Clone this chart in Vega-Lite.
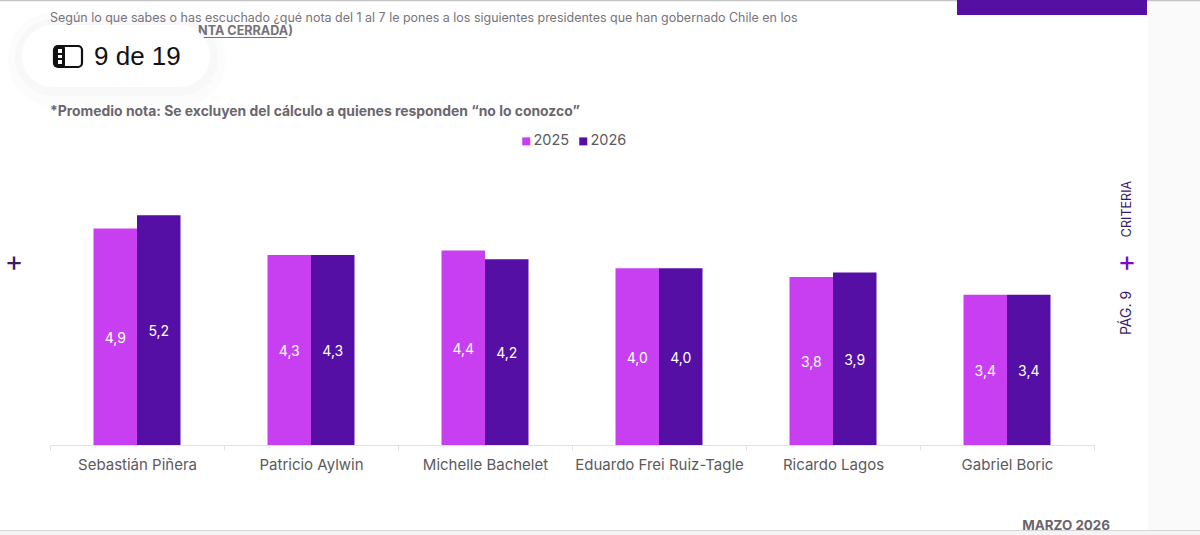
{
  "$schema": "https://vega.github.io/schema/vega-lite/v6.json",
  "width": 1200,
  "height": 535,
  "autosize": "none",
  "padding": 0,
  "background": "#ffffff",
  "title": {
    "text": "Según lo que sabes o has escuchado ¿qué nota del 1 al 7 le pones a los siguientes presidentes que han gobernado Chile en los",
    "subtitle": "*Promedio nota: Se excluyen del cálculo a quienes responden “no lo conozco”",
    "anchor": "start",
    "frame": "group",
    "dx": 50,
    "offset": -119,
    "font": "Inter",
    "fontSize": 12.47,
    "fontWeight": "normal",
    "color": "#77737a",
    "subtitleFont": "Inter",
    "subtitleFontSize": 13.9,
    "subtitleFontWeight": "bold",
    "subtitleColor": "#6b666e",
    "subtitlePadding": 80
  },
  "data": {
    "values": [
      {"presidente": "Sebastián Piñera", "anio": "2025", "nota": 4.9},
      {"presidente": "Sebastián Piñera", "anio": "2026", "nota": 5.2},
      {"presidente": "Patricio Aylwin", "anio": "2025", "nota": 4.3},
      {"presidente": "Patricio Aylwin", "anio": "2026", "nota": 4.3},
      {"presidente": "Michelle Bachelet", "anio": "2025", "nota": 4.4},
      {"presidente": "Michelle Bachelet", "anio": "2026", "nota": 4.2},
      {"presidente": "Eduardo Frei Ruiz-Tagle", "anio": "2025", "nota": 4.0},
      {"presidente": "Eduardo Frei Ruiz-Tagle", "anio": "2026", "nota": 4.0},
      {"presidente": "Ricardo Lagos", "anio": "2025", "nota": 3.8},
      {"presidente": "Ricardo Lagos", "anio": "2026", "nota": 3.9},
      {"presidente": "Gabriel Boric", "anio": "2025", "nota": 3.4},
      {"presidente": "Gabriel Boric", "anio": "2026", "nota": 3.4}
    ]
  },
  "layer": [
    {
      "data": {"values": [{"pagina": 9}]},
      "layer": [
        {
          "mark": {"type": "rect", "fill": "#fafafa"},
          "encoding": {
            "x": {"datum": 1148, "type": "quantitative", "axis": null, "scale": {"domain": [0, 1200], "range": [0, 1200], "nice": false, "zero": false}},
            "x2": {"datum": 1200},
            "y": {"datum": 0, "type": "quantitative", "axis": null, "scale": {"domain": [0, 535], "range": [0, 535], "nice": false, "zero": false}},
            "y2": {"datum": 535}
          }
        },
        {
          "mark": {"type": "rect", "fill": "#f4f4f4"},
          "encoding": {
            "x": {"datum": 0, "type": "quantitative", "axis": null},
            "x2": {"datum": 1200},
            "y": {"datum": 530, "type": "quantitative", "axis": null},
            "y2": {"datum": 535}
          }
        },
        {
          "mark": {"type": "rule", "stroke": "#d6d6d6", "strokeWidth": 1},
          "encoding": {
            "x": {"datum": 0, "type": "quantitative", "axis": null},
            "x2": {"datum": 1200},
            "y": {"datum": 530.5, "type": "quantitative", "axis": null}
          }
        },
        {
          "mark": {"type": "rule", "stroke": "#c4c4c4", "strokeWidth": 1.5},
          "encoding": {
            "x": {"datum": 0, "type": "quantitative", "axis": null},
            "x2": {"datum": 1200},
            "y": {"datum": 0.5, "type": "quantitative", "axis": null}
          }
        },
        {
          "mark": {"type": "rect", "fill": "#550fa3"},
          "encoding": {
            "x": {"datum": 957, "type": "quantitative", "axis": null},
            "x2": {"datum": 1147},
            "y": {"datum": 0, "type": "quantitative", "axis": null},
            "y2": {"datum": 15}
          }
        },
        {
          "mark": {"type": "text", "text": "NTA CERRADA)", "align": "right", "baseline": "middle", "font": "Inter", "fontSize": 12.6, "fontWeight": "bold", "fill": "#77737a"},
          "encoding": {
            "x": {"datum": 293, "type": "quantitative", "axis": null},
            "y": {"datum": 31, "type": "quantitative", "axis": null}
          }
        },
        {
          "mark": {"type": "rule", "stroke": "#77737a", "strokeWidth": 1},
          "encoding": {
            "x": {"datum": 198, "type": "quantitative", "axis": null},
            "x2": {"datum": 287},
            "y": {"datum": 37.5, "type": "quantitative", "axis": null}
          }
        },
        {
          "mark": {"type": "rect", "fill": "#000000", "opacity": 0.012, "cornerRadius": 45},
          "encoding": {
            "x": {"datum": 8, "type": "quantitative", "axis": null},
            "x2": {"datum": 226},
            "y": {"datum": 12, "type": "quantitative", "axis": null},
            "y2": {"datum": 106}
          }
        },
        {
          "mark": {"type": "rect", "fill": "#000000", "opacity": 0.015, "cornerRadius": 38},
          "encoding": {
            "x": {"datum": 15, "type": "quantitative", "axis": null},
            "x2": {"datum": 218},
            "y": {"datum": 19, "type": "quantitative", "axis": null},
            "y2": {"datum": 96}
          }
        },
        {
          "mark": {"type": "rect", "fill": "#ffffff", "cornerRadius": 31},
          "encoding": {
            "x": {"datum": 22, "type": "quantitative", "axis": null},
            "x2": {"datum": 210},
            "y": {"datum": 25, "type": "quantitative", "axis": null},
            "y2": {"datum": 87}
          }
        },
        {
          "mark": {"type": "rect", "fill": "#ffffff", "stroke": "#111111", "strokeWidth": 2.2, "cornerRadius": 4},
          "encoding": {
            "x": {"datum": 54, "type": "quantitative", "axis": null},
            "x2": {"datum": 82},
            "y": {"datum": 46, "type": "quantitative", "axis": null},
            "y2": {"datum": 67}
          }
        },
        {
          "mark": {"type": "rect", "fill": "#111111", "cornerRadius": 2},
          "encoding": {
            "x": {"datum": 54, "type": "quantitative", "axis": null},
            "x2": {"datum": 65},
            "y": {"datum": 46, "type": "quantitative", "axis": null},
            "y2": {"datum": 67}
          }
        },
        {
          "mark": {"type": "rect", "fill": "#ffffff"},
          "encoding": {
            "x": {"datum": 58, "type": "quantitative", "axis": null},
            "x2": {"datum": 62},
            "y": {"datum": 49, "type": "quantitative", "axis": null},
            "y2": {"datum": 53}
          }
        },
        {
          "mark": {"type": "rect", "fill": "#ffffff"},
          "encoding": {
            "x": {"datum": 58, "type": "quantitative", "axis": null},
            "x2": {"datum": 62},
            "y": {"datum": 55, "type": "quantitative", "axis": null},
            "y2": {"datum": 58}
          }
        },
        {
          "mark": {"type": "rect", "fill": "#ffffff"},
          "encoding": {
            "x": {"datum": 58, "type": "quantitative", "axis": null},
            "x2": {"datum": 62},
            "y": {"datum": 60, "type": "quantitative", "axis": null},
            "y2": {"datum": 64}
          }
        },
        {
          "mark": {"type": "text", "text": "9 de 19", "align": "left", "baseline": "middle", "font": "Liberation Sans", "fontSize": 26, "fill": "#111111"},
          "encoding": {
            "x": {"datum": 94, "type": "quantitative", "axis": null},
            "y": {"datum": 57, "type": "quantitative", "axis": null}
          }
        },
        {
          "mark": {"type": "text", "text": "+", "align": "center", "baseline": "middle", "font": "Inter", "fontSize": 28, "fill": "#3a1a6e"},
          "encoding": {
            "x": {"datum": 14, "type": "quantitative", "axis": null},
            "y": {"datum": 263, "type": "quantitative", "axis": null}
          }
        },
        {
          "mark": {"type": "text", "text": "+", "align": "center", "baseline": "middle", "font": "Inter", "fontSize": 28, "fill": "#7a0bc8"},
          "encoding": {
            "x": {"datum": 1127, "type": "quantitative", "axis": null},
            "y": {"datum": 263, "type": "quantitative", "axis": null}
          }
        },
        {
          "mark": {"type": "text", "text": "CRITERIA", "angle": 270, "align": "center", "baseline": "middle", "font": "Inter", "fontSize": 12.6, "fill": "#3a1a6e"},
          "encoding": {
            "x": {"datum": 1127, "type": "quantitative", "axis": null},
            "y": {"datum": 209, "type": "quantitative", "axis": null}
          }
        },
        {
          "mark": {"type": "text", "text": "PÁG. 9", "angle": 270, "align": "center", "baseline": "middle", "font": "Inter", "fontSize": 14, "fill": "#3a1a6e"},
          "encoding": {
            "x": {"datum": 1127, "type": "quantitative", "axis": null},
            "y": {"datum": 313, "type": "quantitative", "axis": null}
          }
        },
        {
          "mark": {"type": "text", "text": "MARZO 2026", "align": "right", "baseline": "middle", "font": "Inter", "fontSize": 13.4, "fontWeight": "bold", "fill": "#6b666e"},
          "encoding": {
            "x": {"datum": 1110, "type": "quantitative", "axis": null},
            "y": {"datum": 526, "type": "quantitative", "axis": null}
          }
        }
      ]
    },
    {
      "encoding": {
        "x": {
          "field": "presidente",
          "type": "nominal",
          "sort": null,
          "title": null,
          "scale": {"range": [50, 1094], "paddingInner": 0, "paddingOuter": 0},
          "axis": {
            "offset": -90,
            "labelAngle": 0,
            "labelFont": "Inter",
            "labelFontSize": 15,
            "labelColor": "#5c5a60",
            "labelPadding": 7,
            "labelLimit": 180,
            "domainColor": "#e2e2e6",
            "tickColor": "#e2e2e6",
            "tickSize": 5,
            "tickBand": "extent",
            "grid": false
          }
        },
        "xOffset": {
          "field": "anio",
          "type": "nominal",
          "scale": {"paddingInner": 0, "paddingOuter": 1}
        }
      },
      "layer": [
        {
          "mark": {"type": "bar"},
          "encoding": {
            "y": {
              "field": "nota",
              "type": "quantitative",
              "axis": null,
              "scale": {"domain": [0, 10], "range": [445, 3], "nice": false}
            },
            "color": {
              "field": "anio",
              "type": "nominal",
              "title": null,
              "scale": {"domain": ["2025", "2026"], "range": ["#c83ff2", "#550fa5"]},
              "legend": {
                "orient": "none",
                "direction": "horizontal",
                "legendX": 519,
                "legendY": 134,
                "symbolType": "square",
                "symbolSize": 64,
                "symbolStrokeWidth": 0,
                "labelFont": "Inter",
                "labelFontSize": 14.5,
                "labelColor": "#5c5a60",
                "labelOffset": 0,
                "columnPadding": 6
              }
            }
          }
        },
        {
          "mark": {"type": "text", "baseline": "middle", "dy": 2, "font": "Inter", "fontSize": 14, "fill": "#ffffff"},
          "encoding": {
            "y": {
              "field": "nota",
              "type": "quantitative",
              "axis": null,
              "scale": {"domain": [0, 10], "range": [445, 224], "nice": false}
            },
            "text": {"field": "nota", "type": "quantitative", "format": ".1f"}
          }
        }
      ],
      "resolve": {"scale": {"y": "independent"}}
    }
  ],
  "resolve": {"scale": {"x": "independent", "y": "independent"}},
  "config": {
    "view": {"stroke": null},
    "locale": {"number": {"decimal": ",", "thousands": ".", "grouping": [3], "currency": ["", " €"]}}
  }
}
